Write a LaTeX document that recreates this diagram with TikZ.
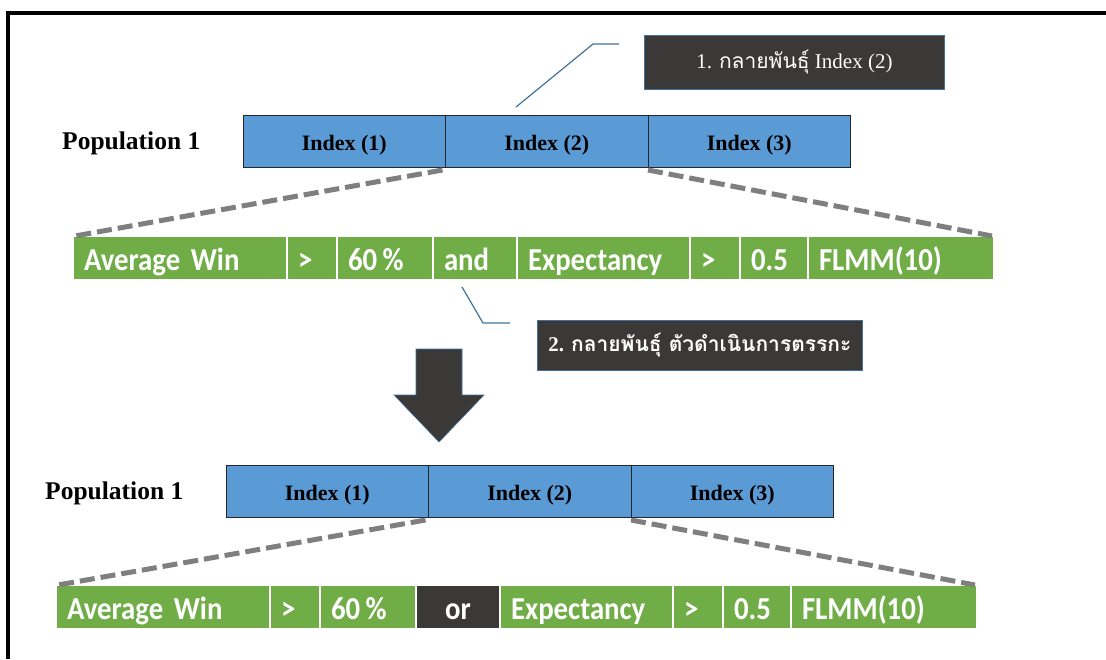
\documentclass[tikz,border=0pt]{standalone}
\usepackage{fontspec}
\setmainfont{Liberation Serif}
\newfontfamily\calfont[FakeStretch=0.9]{Carlito}
\newfontfamily\thaifont[Script=Thai]{Loma}
\usetikzlibrary{calc}

\definecolor{cellgreen}{HTML}{70AD47}
\definecolor{cellblue}{HTML}{5B9BD5}
\definecolor{darkbox}{HTML}{3B3838}
\definecolor{linkblue}{HTML}{41719C}
\definecolor{dashgray}{HTML}{7F7F7F}

\begin{document}
\begin{tikzpicture}[x=1pt,y=-1pt,
  poplabel/.style={anchor=west, inner sep=0, font=\bfseries\fontsize{25.5}{30}\selectfont},
  idxcell/.style={draw=black!85, line width=0.8pt, fill=cellblue, anchor=north west,
    minimum width=202.5pt, minimum height=52pt, inner sep=0, outer sep=0pt,
    text height=19pt, text depth=1pt,
    font=\bfseries\fontsize{22}{26}\selectfont},
  gcell/.style={draw=white, line width=1.2pt, fill=cellgreen, anchor=north west,
    text=white, minimum height=44pt, inner xsep=11pt, inner ysep=0, outer sep=0pt,
    text height=28pt, text depth=4pt, align=left,
    text width=#1, font=\calfont\bfseries\fontsize{32}{36}\selectfont},
  ocell/.style={gcell=#1, fill=darkbox, align=center},
  callout/.style={draw=linkblue, line width=0.8pt, fill=darkbox, text=white, inner sep=0,
    anchor=north west},
  leader/.style={draw=linkblue, line width=1.2pt},
  zoomline/.style={draw=dashgray, line width=5pt, dash pattern=on 15pt off 6pt},
]
\useasboundingbox (0,0) rectangle (1106,659);

% outer frame (top and left edges)
\draw[line width=4.5pt] (8,659) -- (8,13) -- (1106,13);

% ---------- first population ----------
\node[poplabel] (popA) at (62,143.5) {Population 1};
\node[idxcell] (aidx1) at (243,115) {Index (1)};
\node[idxcell] (aidx2) at (aidx1.north east) {Index (2)};
\node[idxcell] (aidx3) at (aidx2.north east) {Index (3)};

\node[gcell=192pt] (ag1) at (73,236) {Average Win};
\node[gcell=28pt]  (ag2) at (ag1.north east) {>};
\node[gcell=74pt]  (ag3) at (ag2.north east) {60\,\%};
\node[gcell=62pt]  (ag4) at (ag3.north east) {and};
\node[gcell=151pt] (ag5) at (ag4.north east) {Expectancy};
\node[gcell=28pt]  (ag6) at (ag5.north east) {>};
\node[gcell=46pt]  (ag7) at (ag6.north east) {0.5};
\node[gcell=164pt] (ag8) at (ag7.north east) {FLMM(10)};

\draw[zoomline] ($(aidx1.south east)+(-3,3)$) -- ($(ag1.north west)+(2,0)$);
\draw[zoomline] ($(aidx2.south east)+(0,3)$) -- ($(ag8.north east)+(-2,0)$);

% callout 1
\node[callout, minimum width=300pt, minimum height=54pt,
  font=\fontsize{21}{25}\selectfont] (co1) at (644,35)
  {1. {\thaifont กลายพันธุ์} Index (2)};
\coordinate (l1a) at (516,107);
\coordinate (l1b) at (593,44);
\coordinate (l1c) at (619,44);
\draw[leader] (l1a) -- (l1b) -- (l1c);

% callout 2
\node[callout, minimum width=325pt, minimum height=50pt,
  font=\bfseries\fontsize{21}{25}\selectfont] (co2) at (537,320)
  {2. {\thaifont\bfseries กลายพันธุ์ ตัวดำเนินการตรรกะ}};
\coordinate (l2a) at (462,287);
\coordinate (l2b) at (483,323);
\coordinate (l2c) at (510,323);
\draw[leader] (l2a) -- (l2b) -- (l2c);

% big down arrow
\draw[draw=linkblue, line width=0.6pt, fill=darkbox]
  (416,349) -- (462,349) -- (462,395) -- (484,395) -- (439,442)
  -- (394,395) -- (416,395) -- cycle;

% ---------- second population ----------
\node[poplabel] (popB) at (45,493.5) {Population 1};
\node[idxcell] (bidx1) at (226,465) {Index (1)};
\node[idxcell] (bidx2) at (bidx1.north east) {Index (2)};
\node[idxcell] (bidx3) at (bidx2.north east) {Index (3)};

\node[gcell=192pt] (bg1) at (56,585) {Average Win};
\node[gcell=28pt]  (bg2) at (bg1.north east) {>};
\node[gcell=74pt]  (bg3) at (bg2.north east) {60\,\%};
\node[ocell=62pt]  (bg4) at (bg3.north east) {or};
\node[gcell=151pt] (bg5) at (bg4.north east) {Expectancy};
\node[gcell=28pt]  (bg6) at (bg5.north east) {>};
\node[gcell=46pt]  (bg7) at (bg6.north east) {0.5};
\node[gcell=164pt] (bg8) at (bg7.north east) {FLMM(10)};

\draw[zoomline] ($(bidx1.south east)+(-3,3)$) -- ($(bg1.north west)+(2,0)$);
\draw[zoomline] ($(bidx2.south east)+(0,3)$) -- ($(bg8.north east)+(-2,0)$);
\end{tikzpicture}
\end{document}
